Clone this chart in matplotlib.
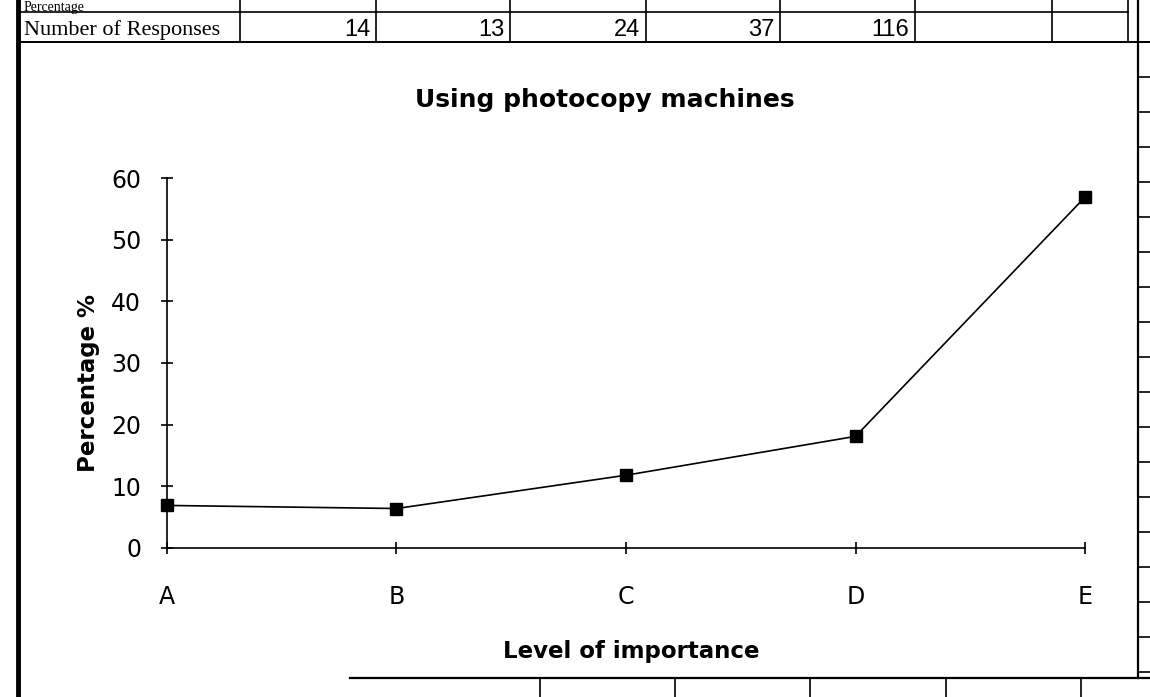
import numpy as np
import matplotlib
matplotlib.use('Agg')
import matplotlib.pyplot as plt

# survey results for "using photocopy machines"
levels = ['A', 'B', 'C', 'D', 'E']
responses = [14, 13, 24, 37, 116]
percentage = [6.9, 6.4, 11.8, 18.1, 56.9]
yticks = [0, 10, 20, 30, 40, 50, 60]

fig = plt.figure(figsize=(11.5, 6.97), dpi=100)

# background layer in pixel units for the spreadsheet grid around the chart
bg = fig.add_axes([0, 0, 1, 1], zorder=-1)
bg.set_xlim(0, 1150)
bg.set_ylim(697, 0)
bg.axis('off')

# thick left border of the sheet
bg.plot([18, 18], [0, 697], color='black', lw=3.5)

# table rows at the top (percentage row is mostly cut off by the scan)
bg.plot([18, 1128], [12, 12], color='black', lw=1.2)
bg.plot([18, 1150], [42, 42], color='black', lw=1.4)
col_lines = [240, 376, 510, 646, 780, 915, 1052, 1128]
for cx in col_lines:
    bg.plot([cx, cx], [0, 42], color='black', lw=1.2)
bg.text(24, 11, 'Percentage', fontsize=10, family='Liberation Serif', va='baseline', ha='left')
bg.text(24, 35, 'Number of Responses', fontsize=16, family='Liberation Serif', va='baseline', ha='left')
for i in range(len(responses)):
    bg.text(col_lines[i + 1] - 6, 36, str(responses[i]), fontsize=17,
            family='Liberation Sans', ha='right', va='baseline')

# right column of cells
bg.plot([1138, 1138], [0, 678], color='black', lw=1.6)
for ry in np.arange(42, 678, 35):
    bg.plot([1138, 1150], [ry, ry], color='black', lw=1.2)

# cells below the chart
bg.plot([350, 1150], [678, 678], color='black', lw=1.6)
for cx in [540, 675, 810, 946, 1081]:
    bg.plot([cx, cx], [678, 697], color='black', lw=1.2)

# the chart itself
ax = fig.add_axes([0.1452, 0.2138, 0.7983, 0.5308])
x = np.arange(len(levels))
ax.plot(x, percentage, color='black', lw=1.2, marker='s', ms=8,
        markerfacecolor='black', markeredgecolor='black', clip_on=False)

ax.set_xlim(0, 4)
ax.set_ylim(0, 60)
ax.set_xticks(x)
ax.set_xticklabels(levels)
ax.set_yticks(yticks)
for s in ['top', 'right']:
    ax.spines[s].set_visible(False)
for s in ['left', 'bottom']:
    ax.spines[s].set_linewidth(1.2)
ax.tick_params(axis='both', direction='inout', length=9, width=1.2, labelsize=17)
ax.tick_params(axis='y', pad=14)
ax.tick_params(axis='x', pad=22)

fig.text(0.526, 0.857, 'Using photocopy machines', fontsize=18, fontweight='bold',
         ha='center', va='center')
fig.text(0.549, 0.065, 'Level of importance', fontsize=16.5, fontweight='bold',
         ha='center', va='center')
fig.text(0.077, 0.45, 'Percentage %', fontsize=16.5, fontweight='bold',
         ha='center', va='center', rotation=90)

plt.savefig('out.png', dpi=100)
